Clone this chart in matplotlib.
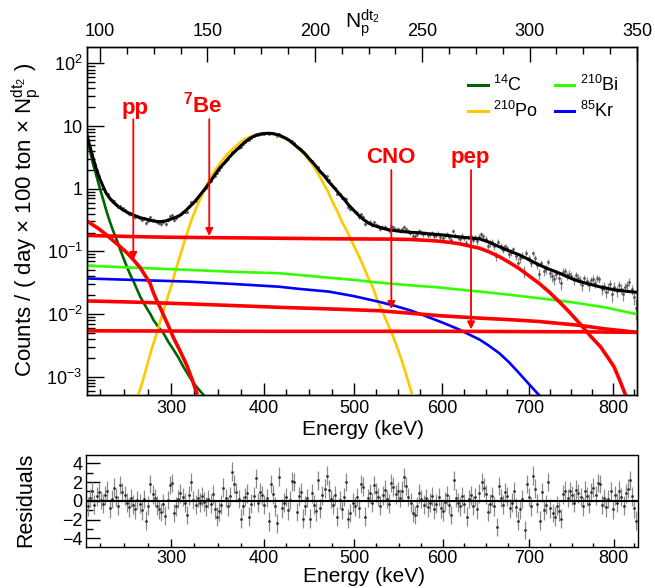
import numpy as np
import matplotlib
matplotlib.use("Agg")
import matplotlib.pyplot as plt
from matplotlib.lines import Line2D
from matplotlib.ticker import FixedLocator, FixedFormatter, NullFormatter, LogLocator

plt.rcParams['font.family'] = ['Liberation Sans', 'DejaVu Sans']
plt.rcParams['mathtext.fontset'] = 'custom'
plt.rcParams['mathtext.rm'] = 'Liberation Sans'
plt.rcParams['mathtext.it'] = 'Liberation Sans:italic'
plt.rcParams['mathtext.bf'] = 'Liberation Sans:bold'

# ---------------- data (energies in keV, rates in cpd/100t/Np) ----------------
fit_E = [210, 213, 217, 220, 224, 228, 231, 235, 238, 243, 249, 254, 260, 267, 274, 281, 288,
         294, 299, 305, 310, 315, 320, 326, 331, 337, 342, 347, 352, 358, 363, 369, 374, 380,
         385, 390, 395, 400, 406, 411, 417, 422, 428, 433, 439, 445, 450, 456, 461, 467, 472,
         478, 483, 489, 494, 500, 505, 511, 517, 522, 528, 534, 540, 551, 563, 574, 586, 597,
         609, 620, 631, 643, 654, 666, 677, 689, 700, 712, 724, 736, 748, 760, 772, 785, 797,
         809, 820, 829]
fit_V = [8.1, 5.3, 3.2, 2.2, 1.47, 1.07, 0.85, 0.70, 0.62, 0.53, 0.457, 0.415, 0.38, 0.345,
         0.325, 0.305, 0.298, 0.305, 0.325, 0.35, 0.38, 0.44, 0.516, 0.64, 0.79, 1.02, 1.29,
         1.66, 2.11, 2.65, 3.24, 3.95, 4.68, 5.6, 6.37, 6.95, 7.37, 7.6, 7.68, 7.55, 7.17, 6.65,
         5.98, 5.2, 4.4, 3.7, 3.05, 2.45, 1.99, 1.6, 1.29, 1.04, 0.85, 0.68, 0.55, 0.45, 0.38,
         0.32, 0.28, 0.26, 0.244, 0.23, 0.22, 0.21, 0.202, 0.198, 0.19, 0.185, 0.177, 0.17,
         0.164, 0.158, 0.14, 0.118, 0.102, 0.088, 0.074, 0.061, 0.052, 0.045, 0.038, 0.033,
         0.030, 0.027, 0.025, 0.0236, 0.0228, 0.0222]

c14_E = [210, 213.5, 217, 220.5, 224, 227.5, 231, 234.5, 238, 242, 245.5, 249, 252.7, 256, 260,
         263.5, 267, 270.5, 274, 278, 281, 286, 292, 297, 302.5, 308, 313, 318.5, 324, 329.5, 335]
c14_V = [7.6, 4.4, 2.54, 1.65, 1.06, 0.70, 0.457, 0.31, 0.22, 0.155, 0.11, 0.08, 0.058, 0.044,
         0.033, 0.025, 0.019, 0.0152, 0.0124, 0.0099, 0.0081, 0.0063, 0.0049, 0.0036, 0.0027,
         0.0020, 0.00145, 0.00107, 0.00079, 0.00063, 0.00051]

po_E = [265, 270, 274, 279, 284.7, 290, 295.4, 301, 306, 311.5, 317, 322, 327.5, 334, 340, 346,
        352.5, 360, 367, 374, 381, 388, 395, 400, 406, 411, 416, 421, 427, 432, 439, 446, 454,
        460, 465, 471, 476, 482, 487, 493, 498, 504, 509.5, 515, 521, 526, 532, 538, 544, 550,
        555, 560, 565]
po_V = [0.00051, 0.00088, 0.00145, 0.0027, 0.00494, 0.0093, 0.0168, 0.031, 0.057, 0.105, 0.194,
        0.32, 0.516, 0.85, 1.29, 1.85, 2.54, 3.5, 4.4, 5.45, 6.37, 7.0, 7.45, 7.62, 7.65, 7.45,
        7.05, 6.6, 5.9, 5.25, 4.3, 3.4, 2.4, 1.75, 1.3, 0.9, 0.62, 0.42, 0.29, 0.2, 0.14, 0.093,
        0.063, 0.041, 0.027, 0.017, 0.011, 0.0069, 0.0044, 0.0026, 0.0016, 0.00095, 0.00055]

bi_E = [210, 260, 320, 370, 417, 439, 472, 500, 528, 560, 597, 620, 643, 675, 712, 750, 790, 829]
bi_V = [0.059, 0.055, 0.0505, 0.047, 0.0448, 0.042, 0.038, 0.035, 0.0317, 0.029, 0.0265,
        0.0245, 0.0228, 0.0205, 0.0179, 0.0155, 0.0128, 0.0099]

kr_E = [210, 260, 320, 370, 417, 439, 472, 500, 528, 546, 563, 575, 586, 597, 609, 620, 631,
        643, 654, 666, 677, 689, 700, 712]
kr_V = [0.037, 0.035, 0.0329, 0.030, 0.0273, 0.0252, 0.0228, 0.0193, 0.0157, 0.0135, 0.0115,
        0.010, 0.0087, 0.0076, 0.0065, 0.0056, 0.0047, 0.0039, 0.0031, 0.00235, 0.0017,
        0.00113, 0.00077, 0.00051]

pp_E = [210, 217, 224, 231, 238, 245.5, 253, 260, 267, 272, 277.5, 281, 285, 288.5, 292, 297,
        302.5, 310, 317, 322, 327.5]
pp_V = [0.31, 0.265, 0.225, 0.185, 0.15, 0.12, 0.095, 0.073, 0.055, 0.042, 0.031, 0.022, 0.016,
        0.0125, 0.0095, 0.0065, 0.0042, 0.0025, 0.0015, 0.00095, 0.00055]

be7_E = [210, 260, 300, 400, 472, 540, 563, 574, 586, 597, 609, 620, 631, 643, 654, 666, 677,
         689, 700, 712, 724, 736, 748, 760, 772, 785, 793, 801, 808, 815]
be7_V = [0.18, 0.172, 0.168, 0.163, 0.159, 0.157, 0.155, 0.152, 0.149, 0.145, 0.139, 0.132,
         0.122, 0.112, 0.098, 0.082, 0.067, 0.053, 0.041, 0.031, 0.0225, 0.0157, 0.0107, 0.0071,
         0.0046, 0.003, 0.0021, 0.00145, 0.00088, 0.00051]

cno_E = [210, 260, 320, 370, 417, 470, 528, 560, 597, 643, 680, 712, 760, 790, 829]
cno_V = [0.0162, 0.0155, 0.0145, 0.0136, 0.0128, 0.0121, 0.0113, 0.0104, 0.0094, 0.0086,
         0.0081, 0.0076, 0.0066, 0.0058, 0.0051]

pep_E = [210, 400, 600, 760, 829]
pep_V = [0.0054, 0.0053, 0.0053, 0.0052, 0.0051]

# residuals, one per N_p bin (bins of width 1 from N_p = 94 to 350)
residuals = [
    -0.6, 0.3, 1.0, -0.4, 0.5, 0.9, 0.1, -0.3, 0.6, 1.1, -0.8, 0.2, 1.4, 0.4, -0.5, 1.7,
    0.9, 0.6, -0.2, -0.7, 0.3, -0.4, -0.9, 0.1, -0.3, -1.0, 0.2, -2.1, -0.5, 1.8, 0.7, 0.3,
    -0.5, -0.9, -1.2, -0.3, -1.6, 0.1, 1.7, 1.9, -1.3, -0.6, 0.2, 0.8, 0.4, -0.2, -1.5, 0.6,
    2.0, 0.1, -0.4, 0.3, -0.2, 0.5, -0.1, -0.6, 0.2, -0.3, 0.7, -0.9, -1.7, -1.1, -0.4, 1.4,
    0.3, -0.6, 0.5, 3.1, 1.8, 0.9, 0.2, -1.9, -0.5, 0.4, 0.8, -1.7, -0.3, 0.5, 2.4, -0.2,
    0.9, 0.6, -0.4, 0.3, -2.2, 1.8, 0.7, -0.6, -2.4, 2.6, -0.8, -0.2, 0.4, -1.0, 0.1, 2.1,
    2.0, -1.2, 0.5, 0.9, -1.9, -0.5, 0.3, -1.9, 0.8, -0.4, -1.1, 2.2, -0.8, 0.6, 1.3, 2.7,
    1.2, 0.2, -0.4, 0.6, -1.7, 0.1, -0.9, 0.4, 2.0, -1.9, -1.3, -0.2, -0.6, 0.4, -0.8, 1.8,
    1.5, -1.7, 0.3, 0.8, -0.2, 1.7, 0.9, 0.4, -0.5, 0.6, 1.2, 0.2, -0.3, 1.9, 1.5, 0.7,
    1.0, 0.3, 1.1, 2.5, 1.6, 0.4, -0.2, -1.3, -1.5, -0.6, 0.8, 0.2, -0.4, 0.3, -0.7, -0.2,
    0.5, -0.9, -0.3, 0.4, -0.8, -1.1, -0.1, 0.6, -0.4, -1.5, 2.2, 0.3, -0.2, -0.6, 0.5, -0.3,
    -1.7, 0.2, 0.6, -0.5, 0.4, -0.9, 0.8, 2.0, 1.4, 0.7, -1.2, -0.3, 0.5, -0.6, -2.8, 1.6,
    0.3, -0.4, 0.9, 0.5, -0.8, -0.2, 1.0, -0.7, -2.1, -0.9, 0.2, -3.1, 1.8, 0.4, -0.6, 2.7,
    1.3, -0.3, -2.1, 0.9, -1.0, -0.4, 2.0, -0.8, -1.3, -1.7, -0.5, -1.1, -1.9, 0.7, 1.1, 0.3,
    1.0, 0.6, -0.2, 1.2, 0.8, 0.4, -0.6, 1.1, 0.5, -0.3, 0.9, 1.4, 0.6, 1.9, 1.8, -0.4,
    0.3, -0.7, 0.2, 1.0, -0.9, 0.6, -0.2, 1.1, 0.4, -0.5, 0.8, 1.3, 2.2, 0.5, -0.8, -2.1]

# relative statistical error of the data points, read at a few energies
relerr_E = [210, 250, 300, 350, 400, 450, 500, 550, 600, 650, 700, 750, 800, 830]
relerr_V = [0.01, 0.05, 0.07, 0.03, 0.015, 0.03, 0.06, 0.08, 0.09, 0.11, 0.13, 0.16, 0.19, 0.21]

np_bin_lo, np_bin_hi = 94, 350
np_lim = (93.8, 350.0)
e_ticks = [300, 400, 500, 600, 700, 800]
np_ticks = [100, 150, 200, 250, 300, 350]

# ---------------- energy <-> N_p relation ----------------
E0, N0, A, B = 300.0, 133.1, 0.435, 4.7e-5


def e2n(e):
    d = np.asarray(e, float) - E0
    return N0 + A * d - B * d * d


def n2e(n):
    n = np.asarray(n, float)
    disc = np.clip(A * A - 4 * B * (n - N0), 1e-12, None)
    return E0 + (A - np.sqrt(disc)) / (2 * B)


xlo, xhi = float(n2e(np_lim[0])), float(n2e(np_lim[1]))

# ---------------- figure ----------------
W, H = 655, 588
fig = plt.figure(figsize=(W / 100, H / 100), dpi=100)


def box(l, t, r, b):
    return [l / W, 1 - b / H, (r - l) / W, (b - t) / H]


ax = fig.add_axes(box(86.7, 46.7, 637, 395))
axr = fig.add_axes(box(86.5, 455, 637.5, 546.7))

for a in (ax, axr):
    a.set_xscale('function', functions=(e2n, n2e))
    a.set_xlim(xlo, xhi)
    for s in a.spines.values():
        s.set_linewidth(1.0)

# data points (main panel) from fit and residuals
np_centers = np.arange(np_bin_lo, np_bin_hi) + 0.5
e_centers = n2e(np_centers)
res = np.array(residuals)
model = 10 ** np.interp(e_centers, fit_E, np.log10(fit_V))
rel = np.interp(e_centers, relerr_E, relerr_V)
data = model * (1 + res * rel)
err = model * rel
ax.errorbar(e_centers, data, yerr=err, fmt='o', ms=1.0, color='#555555', ecolor='#8a8a8a',
            elinewidth=0.9, capsize=0, zorder=2)

col_c14 = '#006600'
col_po = '#ffc800'
col_bi = '#33ff00'
col_kr = '#0000ff'
col_red = '#ff0000'

ax.plot(c14_E, c14_V, color=col_c14, lw=1.9, zorder=3)
ax.plot(po_E, po_V, color=col_po, lw=1.9, zorder=3)
ax.plot(bi_E, bi_V, color=col_bi, lw=1.9, zorder=3)
ax.plot(kr_E, kr_V, color=col_kr, lw=1.9, zorder=3)
for xs, ys in ((pp_E, pp_V), (be7_E, be7_V), (cno_E, cno_V), (pep_E, pep_V)):
    ax.plot(xs, ys, color=col_red, lw=2.6, zorder=4)
ax.plot(fit_E, fit_V, color='black', lw=2.2, zorder=5)

ax.set_yscale('log')
ax.set_ylim(5.1e-4, 185)
ax.yaxis.set_major_locator(FixedLocator([1e-3, 1e-2, 1e-1, 1, 10, 100]))
ax.yaxis.set_major_formatter(FixedFormatter([r'$10^{-3}$', r'$10^{-2}$', r'$10^{-1}$', '1', '10', r'$10^{2}$']))
ax.yaxis.set_minor_locator(LogLocator(base=10, subs=np.arange(2, 10), numticks=20))
ax.yaxis.set_minor_formatter(NullFormatter())

minor_e = [e for e in range(225, 830, 25) if e % 100 != 0]
for a in (ax, axr):
    a.xaxis.set_major_locator(FixedLocator(e_ticks))
    a.xaxis.set_major_formatter(FixedFormatter([str(t) for t in e_ticks]))
    a.xaxis.set_minor_locator(FixedLocator(minor_e))
    a.xaxis.set_minor_formatter(NullFormatter())

TL = 13
ax.tick_params(axis='x', which='major', direction='in', length=9, width=1, labelsize=TL, pad=3.5,
               top=False, bottom=True)
ax.tick_params(axis='x', which='minor', direction='in', length=4.5, width=1, top=False, bottom=True)
ax.tick_params(axis='y', which='major', direction='in', length=12, width=1, labelsize=TL, pad=3,
               right=False)
ax.tick_params(axis='y', which='minor', direction='in', length=6, width=1, right=False)

# top N_p axis
axt = ax.twiny()
axt.set_xlim(*np_lim)
axt.xaxis.set_major_locator(FixedLocator(np_ticks))
axt.xaxis.set_minor_locator(FixedLocator(np.arange(100, 350, 12.5)))
axt.xaxis.set_minor_formatter(NullFormatter())
axt.tick_params(axis='x', which='major', direction='in', length=11, width=1, labelsize=TL, pad=5)
axt.tick_params(axis='x', which='minor', direction='in', length=5, width=1)
for s in axt.spines.values():
    s.set_linewidth(1.0)

# legend
handles = [Line2D([], [], color=col_c14, lw=2.2), Line2D([], [], color=col_po, lw=2.2),
           Line2D([], [], color=col_bi, lw=2.2), Line2D([], [], color=col_kr, lw=2.2)]
labels = [r'$^{14}$C', r'$^{210}$Po', r'$^{210}$Bi', r'$^{85}$Kr']
ax.legend(handles, labels, ncol=2, loc='upper left', bbox_to_anchor=(0.68, 0.94),
          frameon=False, fontsize=13, handlelength=1.1, handletextpad=0.3,
          columnspacing=0.9, labelspacing=0.35, borderaxespad=0)

# neutrino labels and arrows
arrow_E = [259.7, 341.0, 542.0, 633.0]
arrow_top = [12.9, 12.9, 1.99, 1.99]
arrow_tip = [0.073, 0.176, 0.012, 0.0057]
label_txt = ['pp', r'$\mathbf{^{7}Be}$', 'CNO', 'pep']
label_E = [261.6, 334.0, 541.0, 632.4]
label_y = [19.4, 21.7, 3.1, 3.1]
for xe, yt, yb in zip(arrow_E, arrow_top, arrow_tip):
    ax.annotate('', xy=(xe, yb), xytext=(xe, yt),
                arrowprops=dict(arrowstyle='-|>', color=col_red, lw=1.3, mutation_scale=11,
                                shrinkA=0, shrinkB=0), zorder=6)
for xe, yy, t in zip(label_E, label_y, label_txt):
    ax.text(xe, yy, t, color=col_red, fontsize=16, fontweight='bold', ha='center', va='center',
            zorder=6)

# residual panel
axr.errorbar(e_centers, res, yerr=np.ones_like(res), fmt='o', ms=1.0, color='#333333',
             ecolor='#8a8a8a', elinewidth=0.9, capsize=0, zorder=2)
axr.axhline(0, color='black', lw=1.5, zorder=3)
axr.set_ylim(-4.9, 4.9)
axr.yaxis.set_major_locator(FixedLocator([-4, -2, 0, 2, 4]))
axr.yaxis.set_minor_locator(FixedLocator([-3, -1, 1, 3]))
axr.tick_params(axis='y', which='major', direction='in', length=10, width=1, labelsize=TL, pad=3)
axr.tick_params(axis='y', which='minor', direction='in', length=5, width=1)
axr.tick_params(axis='x', which='major', direction='in', length=6, width=1, labelsize=TL, pad=2.5)
axr.tick_params(axis='x', which='minor', direction='in', length=3, width=1)

# axis titles
fig.text(363 / W, 1 - 429.5 / H, 'Energy (keV)', fontsize=15, ha='center', va='center')
fig.text(364 / W, 1 - 577 / H, 'Energy (keV)', fontsize=15, ha='center', va='center')
fig.text(26 / W, 1 - 220 / H, r'Counts / ( day $\times$ 100 ton $\times$ $\mathregular{N_{p}^{dt_{2}}}$ )',
         fontsize=16, rotation=90, ha='center', va='center')
fig.text(26 / W, 1 - 500 / H, 'Residuals', fontsize=15.5, rotation=90, ha='center', va='center')
fig.text(362 / W, 1 - 28 / H, r'$\mathregular{N_{p}^{dt_{2}}}$', fontsize=15, ha='center',
         va='baseline')

fig.savefig('out.png', dpi=100)
